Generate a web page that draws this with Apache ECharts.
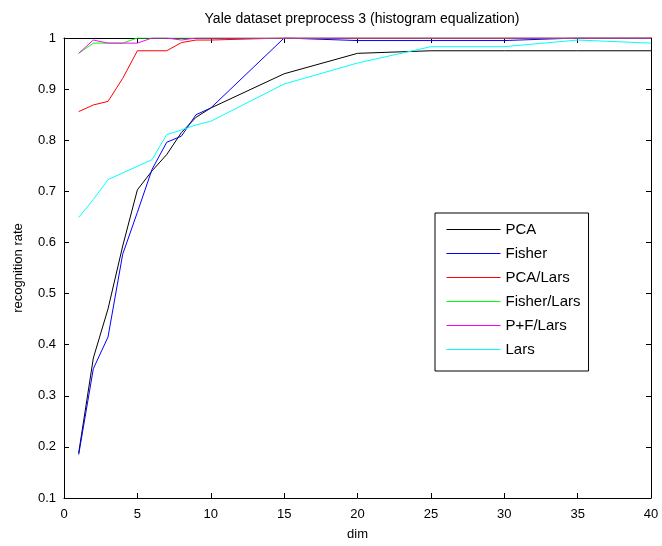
<!DOCTYPE html>
<html>
<head>
<meta charset="utf-8">
<script src="https://cdn.jsdelivr.net/npm/echarts@6/dist/echarts.min.js"></script>
<style>
  html, body { margin: 0; padding: 0; background: #fff; }
  #main { width: 662px; height: 546px; }
</style>
</head>
<body>
<div id="main"></div>
<script>
// dims on the x axis
const dims = [1, 2, 3, 4, 5, 6, 7, 8, 9, 10, 15, 20, 25, 30, 35, 40];

// recognition rate per method
const pca       = [0.188, 0.374, 0.47, 0.593, 0.703, 0.74, 0.772, 0.815, 0.845, 0.863, 0.93, 0.97, 0.975, 0.975, 0.975, 0.975];
const fisher    = [0.185, 0.353, 0.415, 0.577, 0.659, 0.743, 0.796, 0.808, 0.85, 0.863, 1.0, 0.995, 0.995, 0.995, 1.0, 1.0];
const pcaLars   = [0.856, 0.869, 0.876, 0.921, 0.975, 0.975, 0.975, 0.991, 0.996, 0.996, 1.0, 1.0, 1.0, 1.0, 1.0, 1.0];
const fishLars  = [0.97, 0.99, 0.99, 0.99, 1.0, 1.0, 1.0, 1.0, 1.0, 1.0, 1.0, 1.0, 1.0, 1.0, 1.0, 1.0];
const pfLars    = [0.97, 0.996, 0.99, 0.99, 0.99, 1.0, 1.0, 0.996, 1.0, 1.0, 1.0, 1.0, 1.0, 1.0, 1.0, 1.0];
const lars      = [0.649, 0.684, 0.723, 0.736, 0.749, 0.762, 0.811, 0.82, 0.83, 0.837, 0.91, 0.951, 0.983, 0.983, 0.996, 0.99];

const names  = ["PCA", "Fisher", "PCA/Lars", "Fisher/Lars", "P+F/Lars", "Lars"];
const colors = ["#000000", "#0000ff", "#ff0000", "#00ff00", "#ff00ff", "#00ffff"];
const values = [pca, fisher, pcaLars, fishLars, pfLars, lars];

const chart = echarts.init(document.getElementById("main"));
const font = "Liberation Sans, Arial, sans-serif";

const baseAxis = {
  axisLine: { show: true, onZero: false, lineStyle: { color: "#000", width: 1 } },
  axisTick: { show: true, inside: true, length: 5, lineStyle: { color: "#000" } },
  splitLine: { show: false }
};

const option = {
  animation: false,
  backgroundColor: "#fff",
  title: {
    text: "Yale dataset preprocess 3 (histogram equalization)",
    left: 357,
    textAlign: "center",
    top: 7,
    textStyle: { fontFamily: font, fontSize: 14, fontWeight: "normal", color: "#000" }
  },
  grid: { left: 64, right: 11, top: 38, bottom: 46 },
  legend: {
    orient: "vertical",
    left: 435,
    top: 213,
    padding: [9, 8, 14, 11],
    itemWidth: 54,
    itemHeight: 13,
    itemGap: 9,
    borderColor: "#000",
    borderWidth: 1,
    backgroundColor: "#fff",
    itemStyle: { opacity: 0 },
    lineStyle: { width: 1 },
    textStyle: { fontFamily: font, fontSize: 15, color: "#000" },
    data: names
  },
  xAxis: [
    Object.assign({}, baseAxis, {
      type: "value", min: 0, max: 40, interval: 5,
      name: "dim", nameLocation: "middle", nameGap: 30,
      nameTextStyle: { fontFamily: font, fontSize: 13, color: "#000" },
      axisLabel: { fontFamily: font, fontSize: 13, color: "#000", margin: 10 }
    }),
    Object.assign({}, baseAxis, {
      type: "value", min: 0, max: 40, interval: 5, position: "top",
      axisLabel: { show: false }
    })
  ],
  yAxis: [
    Object.assign({}, baseAxis, {
      type: "value", min: 0.1, max: 1, interval: 0.1,
      name: "recognition rate", nameLocation: "middle", nameGap: 39,
      nameTextStyle: { fontFamily: font, fontSize: 13, color: "#000" },
      axisLabel: {
        fontFamily: font, fontSize: 13, color: "#000", margin: 8,
        formatter: v => String(+v.toFixed(1))
      }
    }),
    Object.assign({}, baseAxis, {
      type: "value", min: 0.1, max: 1, interval: 0.1, position: "right",
      axisLabel: { show: false }
    })
  ],
  series: names.map((n, i) => ({
    name: n,
    type: "line",
    symbol: "none",
    color: colors[i],
    itemStyle: { color: colors[i] },
    lineStyle: { width: 1, color: colors[i] },
    data: dims.map((d, j) => [d, values[i][j]])
  }))
};

chart.setOption(option);
</script>
</body>
</html>
